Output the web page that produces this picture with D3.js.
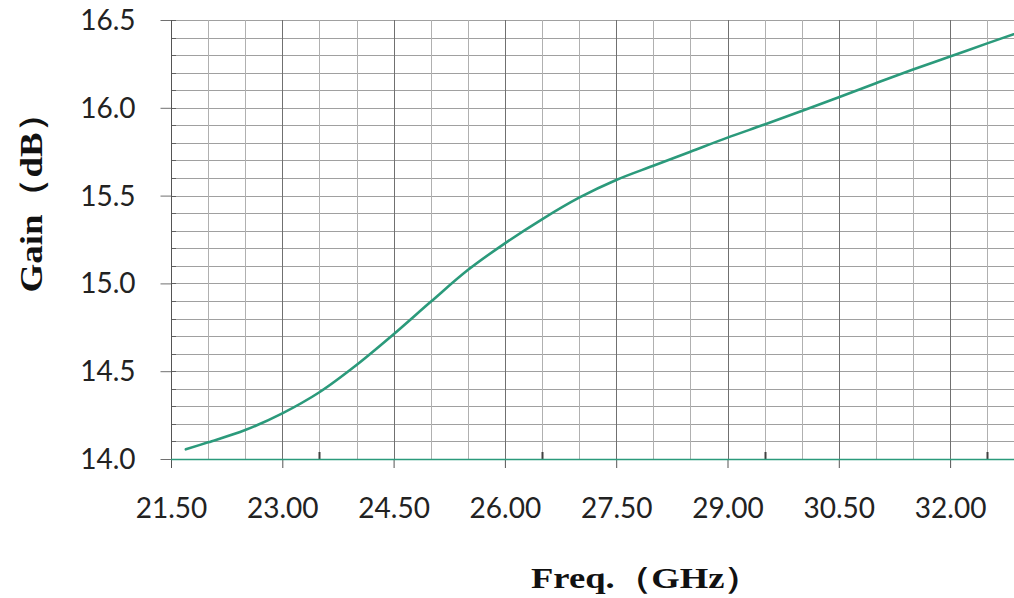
<!DOCTYPE html>
<html>
<head>
<meta charset="utf-8">
<script src="https://cdn.jsdelivr.net/npm/d3@7"></script>
<style>
  html, body { margin: 0; padding: 0; background: #fff; }
  svg { display: block; }
</style>
</head>
<body>
<svg id="chart" width="1014" height="598"></svg>
<script>
// ---- data ----
const freq = [21.7, 22.0, 22.5, 23.0, 23.5, 24.0, 24.5, 25.0, 25.5, 26.0, 26.5, 27.0,
              27.5, 28.0, 28.5, 29.0, 29.5, 30.0, 30.5, 31.0, 31.5, 32.0, 32.5, 33.0];
const gain = [14.055, 14.095, 14.165, 14.26, 14.38, 14.535, 14.71, 14.895, 15.076, 15.228, 15.365, 15.488,
              15.589, 15.67, 15.75, 15.83, 15.905, 15.982, 16.06, 16.14, 16.218, 16.292, 16.367, 16.44];
const xTickValues = [21.5, 23.0, 24.5, 26.0, 27.5, 29.0, 30.5, 32.0];
const yTickValues = [14.0, 14.5, 15.0, 15.5, 16.0, 16.5];
const xInnerTicks = [23.5, 26.5, 29.5, 32.5];
const xTitle = "Freq.（GHz）";
const yTitle = "Gain（dB）";

(function () {
// ---- layout ----
const svg = d3.select("#chart");
const pLeft = 171, pBottom = 459, pTop = 20;
const pxPerGHz = 74.2;
const x = d3.scaleLinear().domain([21.5, 33]).range([pLeft, pLeft + 11.5 * pxPerGHz]);
const y = d3.scaleLinear().domain([14, 16.5]).range([pBottom, pTop]);
const rightEdge = x(33);
const teal = "#2b9a7b";

// horizontal grid (every 0.1 dB)
const hGrid = d3.range(141, 166).map(v => v / 10);
svg.append("g").selectAll("line").data(hGrid).join("line")
  .attr("x1", pLeft).attr("x2", rightEdge)
  .attr("y1", d => Math.round(y(d)) + 0.5).attr("y2", d => Math.round(y(d)) + 0.5)
  .attr("stroke", "#a0a0a0").attr("stroke-width", 1);

// vertical grid (every 0.5 GHz)
const vGrid = d3.range(44, 67).map(v => v / 2);
const isMajor = d => Math.abs(((d - 21.5) / 1.5) - Math.round((d - 21.5) / 1.5)) < 1e-6;
svg.append("g").selectAll("line").data(vGrid).join("line")
  .attr("x1", d => Math.round(x(d)) + 0.5).attr("x2", d => Math.round(x(d)) + 0.5)
  .attr("y1", pTop).attr("y2", pBottom)
  .attr("stroke", d => isMajor(d) ? "#707070" : "#b0b0b0")
  .attr("stroke-width", 1);

// small inner ticks on y axis
svg.append("g").selectAll("line").data(hGrid).join("line")
  .attr("x1", pLeft).attr("x2", pLeft + 5)
  .attr("y1", d => Math.round(y(d)) + 0.5).attr("y2", d => Math.round(y(d)) + 0.5)
  .attr("stroke", "#606060").attr("stroke-width", 1);

// small inner ticks on x axis
svg.append("g").selectAll("line").data(xInnerTicks).join("line")
  .attr("x1", d => Math.round(x(d)) + 0.5).attr("x2", d => Math.round(x(d)) + 0.5)
  .attr("y1", pBottom - 7).attr("y2", pBottom)
  .attr("stroke", "#404040").attr("stroke-width", 2);

// y axis
const yAxis = d3.axisLeft(y).tickValues(yTickValues).tickFormat(d3.format(".1f"))
  .tickSize(11).tickPadding(25);
const gy = svg.append("g").attr("transform", `translate(${pLeft + 0.5},0)`).call(yAxis);
gy.select(".domain").remove();
gy.selectAll(".tick line").attr("stroke", "#707070");
gy.selectAll(".tick text").attr("font-family", "Lato, 'Open Sans', sans-serif")
  .attr("font-size", 28).attr("fill", "#222").attr("dy", "0.34em");
svg.append("line").attr("x1", pLeft + 0.5).attr("x2", pLeft + 0.5)
  .attr("y1", pTop).attr("y2", pBottom + 9).attr("stroke", "#555").attr("stroke-width", 1);

// x axis
const xAxis = d3.axisBottom(x).tickValues(xTickValues).tickFormat(d3.format(".2f"))
  .tickSize(9).tickPadding(30);
const gx = svg.append("g").attr("transform", `translate(0,${pBottom})`).call(xAxis);
gx.select(".domain").remove();
gx.selectAll(".tick line").attr("stroke", "#555");
gx.selectAll(".tick text").attr("font-family", "Lato, 'Open Sans', sans-serif")
  .attr("font-size", 28).attr("fill", "#222");
svg.append("line").attr("x1", pLeft).attr("x2", rightEdge)
  .attr("y1", pBottom + 0.5).attr("y2", pBottom + 0.5)
  .attr("stroke", teal).attr("stroke-width", 1.5);

// curve
const pts = freq.map((f, i) => [f, gain[i]]);
svg.append("path").datum(pts)
  .attr("fill", "none").attr("stroke", teal).attr("stroke-width", 2.6)
  .attr("stroke-linecap", "round")
  .attr("d", d3.line().x(d => x(d[0])).y(d => y(d[1])).curve(d3.curveCatmullRom.alpha(0.5)));

// titles
svg.append("text").text(xTitle)
  .attr("x", 646).attr("y", 588).attr("text-anchor", "middle")
  .attr("font-family", "'Liberation Serif', 'Times New Roman', serif")
  .attr("font-weight", "bold").attr("font-size", 30).attr("fill", "#111")
  .attr("textLength", 230).attr("lengthAdjust", "spacingAndGlyphs");

svg.append("text").text(yTitle)
  .attr("transform", "translate(42,194) rotate(-90)")
  .attr("text-anchor", "middle")
  .attr("font-family", "'Liberation Serif', 'Times New Roman', serif")
  .attr("font-weight", "bold").attr("font-size", 32).attr("fill", "#111")
  .attr("textLength", 197).attr("lengthAdjust", "spacingAndGlyphs");
})();
</script>
</body>
</html>
